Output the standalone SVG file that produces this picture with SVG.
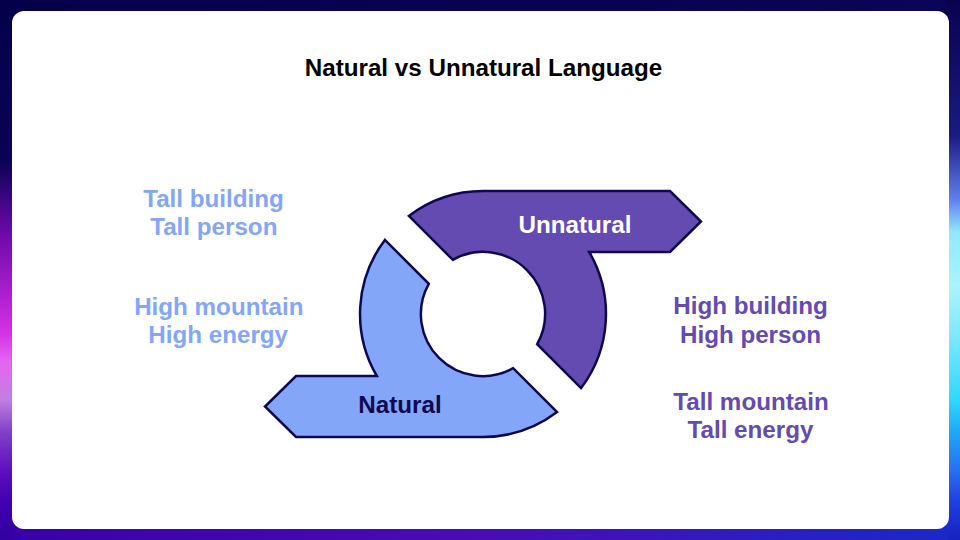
<svg xmlns="http://www.w3.org/2000/svg" width="960" height="540" viewBox="0 0 960 540">
  <defs>
    <linearGradient id="edgeLeft" x1="0" y1="0" x2="0" y2="1">
      <stop offset="0" stop-color="#04004a"/>
      <stop offset="0.3" stop-color="#0c0256"/>
      <stop offset="0.43" stop-color="#6a0aa8"/>
      <stop offset="0.55" stop-color="#b020d0"/>
      <stop offset="0.62" stop-color="#d535e5"/>
      <stop offset="0.67" stop-color="#e565f0"/>
      <stop offset="0.74" stop-color="#c080e0"/>
      <stop offset="0.8" stop-color="#8040c8"/>
      <stop offset="0.87" stop-color="#6010c0"/>
      <stop offset="0.93" stop-color="#4000b0"/>
      <stop offset="1" stop-color="#3200a0"/>
    </linearGradient>
    <linearGradient id="edgeRight" x1="0" y1="0" x2="0" y2="1">
      <stop offset="0" stop-color="#0a0250"/>
      <stop offset="0.25" stop-color="#1a1a80"/>
      <stop offset="0.37" stop-color="#6080f0"/>
      <stop offset="0.43" stop-color="#90e8ff"/>
      <stop offset="0.53" stop-color="#a8f4ff"/>
      <stop offset="0.62" stop-color="#80e8ff"/>
      <stop offset="0.74" stop-color="#30d8ff"/>
      <stop offset="0.8" stop-color="#20a8f8"/>
      <stop offset="0.87" stop-color="#2870f0"/>
      <stop offset="0.93" stop-color="#2040e0"/>
      <stop offset="1" stop-color="#1820c0"/>
    </linearGradient>
    <linearGradient id="edgeBottom" x1="0" y1="0" x2="1" y2="0">
      <stop offset="0" stop-color="#3a00a8"/>
      <stop offset="0.5" stop-color="#4a0cb4"/>
      <stop offset="1" stop-color="#1a28c8"/>
    </linearGradient>
    <linearGradient id="edgeTop" x1="0" y1="0" x2="1" y2="0">
      <stop offset="0" stop-color="#04004a"/>
      <stop offset="1" stop-color="#0c0456"/>
    </linearGradient>
    <style>
      .shape { stroke: #0e0850; stroke-width: 2.5; stroke-linejoin: miter; }
      .unnatural { fill: #634bb2; }
      .natural { fill: #84a6f9; }
      text { font-family: "Liberation Sans", Arial, sans-serif; font-weight: bold; text-anchor: middle; font-size: 24.2px; }
      .title { fill: #000000; }
      .light { fill: #84a6f9; }
      .dark { fill: #634bb2; }
    </style>
  </defs>

  <!-- backdrop with glowing edges -->
  <rect x="0" y="0" width="960" height="540" fill="#04004a"/>
  <rect x="0" y="0" width="960" height="14" fill="url(#edgeTop)"/>
  <rect x="0" y="0" width="14" height="540" fill="url(#edgeLeft)"/>
  <rect x="946" y="0" width="14" height="540" fill="url(#edgeRight)"/>
  <rect x="12" y="526" width="936" height="14" fill="url(#edgeBottom)"/>

  <!-- white card -->
  <rect x="12" y="11" width="937" height="518" rx="12" ry="12" fill="#ffffff"/>

  <text class="title" x="483.5" y="75.7">Natural vs Unnatural Language</text>

  <g id="connectors"></g>

  <g id="node-unnatural">
    <path class="shape unnatural" d="M 408.9 215.9 A 123 123 0 0 1 483 191 L 670 191 L 701 221.5 L 670 252 L 589.2 252 A 123 123 0 0 1 581.1 388.1 L 537.2 344.2 A 62 62 0 0 0 452.8 259.8 Z"/>
    <text x="575" y="232.5" fill="#ffffff">Unnatural</text>
  </g>

  <g id="node-natural">
    <path class="shape natural" d="M 557.1 412.1 A 123 123 0 0 1 483 437 L 296 437 L 265 406.5 L 296 376 L 376.8 376 A 123 123 0 0 1 384.9 239.9 L 428.8 283.8 A 62 62 0 0 0 513.2 368.2 Z"/>
    <text x="400" y="413" fill="#120a50">Natural</text>
  </g>

  <g id="natural-examples">
    <text class="light" x="213.5" y="206.8">Tall building</text>
    <text class="light" x="213.8" y="235.3">Tall person</text>
    <text class="light" x="218.8" y="314.6">High mountain</text>
    <text class="light" x="218.2" y="343.2">High energy</text>
  </g>

  <g id="unnatural-examples">
    <text class="dark" x="750.5" y="314.3">High building</text>
    <text class="dark" x="750.5" y="343.3">High person</text>
    <text class="dark" x="751" y="409.5">Tall mountain</text>
    <text class="dark" x="750.5" y="438.3">Tall energy</text>
  </g>
</svg>
